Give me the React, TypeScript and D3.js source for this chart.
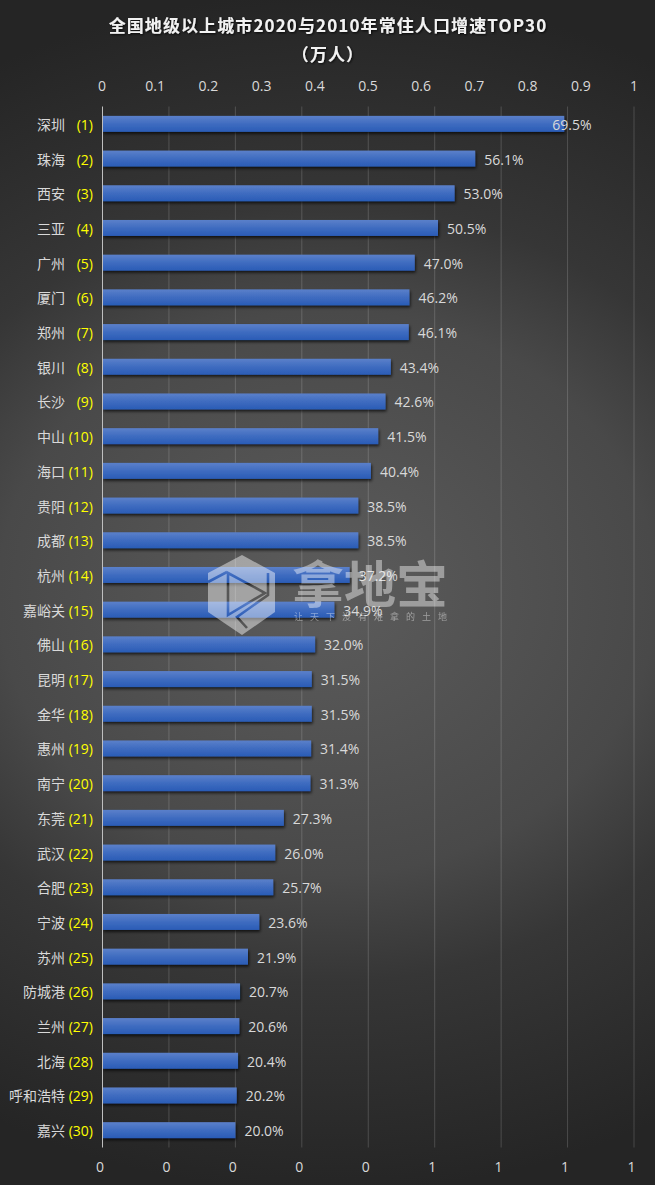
import React from "react";
import * as d3 from "d3";

const cities = ["深圳","珠海","西安","三亚","广州","厦门","郑州","银川","长沙","中山","海口","贵阳","成都","杭州","嘉峪关","佛山","昆明","金华","惠州","南宁","东莞","武汉","合肥","宁波","苏州","防城港","兰州","北海","呼和浩特","嘉兴"];
const growth = [69.5,56.1,53.0,50.5,47.0,46.2,46.1,43.4,42.6,41.5,40.4,38.5,38.5,37.2,34.9,32.0,31.5,31.5,31.4,31.3,27.3,26.0,25.7,23.6,21.9,20.7,20.6,20.4,20.2,20.0];
const topTicks = [0,0.1,0.2,0.3,0.4,0.5,0.6,0.7,0.8,0.9,1];
const bottomTicks = [0,0.1,0.2,0.3,0.4,0.5,0.6,0.7,0.8];
const titleLines = ["全国地级以上城市2020与2010年常住人口增速TOP30","（万人）"];
const watermarkName = "拿地宝";
const watermarkSlogan = "让天下没有难拿的土地";

const W = 655, H = 1185;
const FONT = "'Open Sans','Noto Sans CJK SC',sans-serif";
const TITLE_FONT = "'Noto Sans CJK SC',sans-serif";
const LABEL = "#d9d9d9";

export default function App() {
  const x = d3.scaleLinear().domain([0, 0.8]).range([102.5, 634]);
  const xTop = d3.scaleLinear().domain([0, 1]).range([102, 634]);
  const y = d3.scaleBand<number>().domain(d3.range(cities.length)).range([106.5, 1147.5]).paddingInner(0.54).paddingOuter(0.27);
  React.useEffect(() => { document.body.style.margin = "0"; }, []);
  return (
    <svg width={W} height={H} viewBox={`0 0 ${W} ${H}`} style={{ display: "block", fontFamily: FONT }}>
      <defs>
        <radialGradient id="bg" gradientUnits="userSpaceOnUse" cx={0} cy={0} r={1} gradientTransform="translate(327.5 592.5) scale(700 600)">
          <stop offset="0%" stopColor="#5c5c5c" />
          <stop offset="47%" stopColor="#494949" />
          <stop offset="65%" stopColor="#363636" />
          <stop offset="100%" stopColor="#252525" />
        </radialGradient>
        <linearGradient id="bar" x1="0" y1="0" x2="0" y2="1">
          <stop offset="0%" stopColor="#5b80ca" />
          <stop offset="50%" stopColor="#3f6cc0" />
          <stop offset="100%" stopColor="#2a5cb6" />
        </linearGradient>
        <filter id="shadow" x="-5%" y="-30%" width="110%" height="170%">
          <feDropShadow dx="1" dy="2" stdDeviation="1.5" floodColor="#000" floodOpacity="0.7" />
        </filter>
        <filter id="tshadow" x="-5%" y="-30%" width="110%" height="170%">
          <feDropShadow dx="1" dy="1" stdDeviation="0.8" floodColor="#000" floodOpacity="0.8" />
        </filter>
        <mask id="logo" maskUnits="userSpaceOnUse" x={200} y={550} width={90} height={90}>
          <path d="M242 555 L275 573 L275 612 L242 635 L208 612 L208 573 Z" fill="#fff" />
          <g fill="none" stroke="#000" strokeWidth={2.6}>
            <path d="M228 573 L265 593 L228 615 Z" />
            <path d="M208 582 L227 572" />
            <path d="M268 573 L268 595 L237 617 L247 628" />
          </g>
        </mask>
      </defs>
      <rect width={W} height={H} fill="url(#bg)" />

      <g filter="url(#tshadow)" fill="#f2f2f2" fontWeight={700} fontSize={17} textAnchor="middle" fontFamily={TITLE_FONT} letterSpacing={1.1}>
        <text x={328} y={32}>{titleLines[0]}</text>
        <text x={328} y={61}>{titleLines[1]}</text>
      </g>

      {topTicks.map(t => (
        <text key={t} x={xTop(t)} y={91} textAnchor="middle" fontSize={14} fill={LABEL}>{d3.format("~g")(t)}</text>
      ))}

      {bottomTicks.map(t => (
        <g key={t}>
          {t > 0 && <line x1={x(t)} x2={x(t)} y1={106.5} y2={1147.5} stroke="#fff" strokeOpacity={0.17} />}
          <text x={x(t) - 2.5} y={1172} textAnchor="middle" fontSize={14} fill={LABEL}>{Math.round(t + 1e-9)}</text>
        </g>
      ))}

      {growth.map((v, i) => {
        const yy = y(i)!, bh = y.bandwidth(), end = x(v / 100);
        const labelX = end + (i === 0 ? -12 : 9);
        const base = yy + bh / 2 + 6;
        return (
          <g key={cities[i]}>
            <rect x={x(0)} y={yy} width={end - x(0)} height={bh} fill="url(#bar)" filter="url(#shadow)" />
            <text x={labelX} y={base} fontSize={14} fill={LABEL}>{v.toFixed(1)}%</text>
            <text x={65} y={base} textAnchor="end" fontSize={14} fill={LABEL}>{cities[i]}</text>
            <text x={93} y={base} textAnchor="end" fontSize={14} fill="#ffff00">({i + 1})</text>
          </g>
        );
      })}
      <line x1={102.5} x2={102.5} y1={106.5} y2={1147.5} stroke="#bfbfbf" />

      <rect x={200} y={550} width={90} height={90} fill="#fff" opacity={0.45} mask="url(#logo)" />
      <g opacity={0.42} fill="#fff" fontFamily={TITLE_FONT}>
        <text x={292} y={603} fontSize={50} fontWeight={700} textLength={156} lengthAdjust="spacingAndGlyphs">{watermarkName}</text>
        <text x={294} y={620} fontSize={9} textLength={153}>{watermarkSlogan}</text>
      </g>
    </svg>
  );
}
